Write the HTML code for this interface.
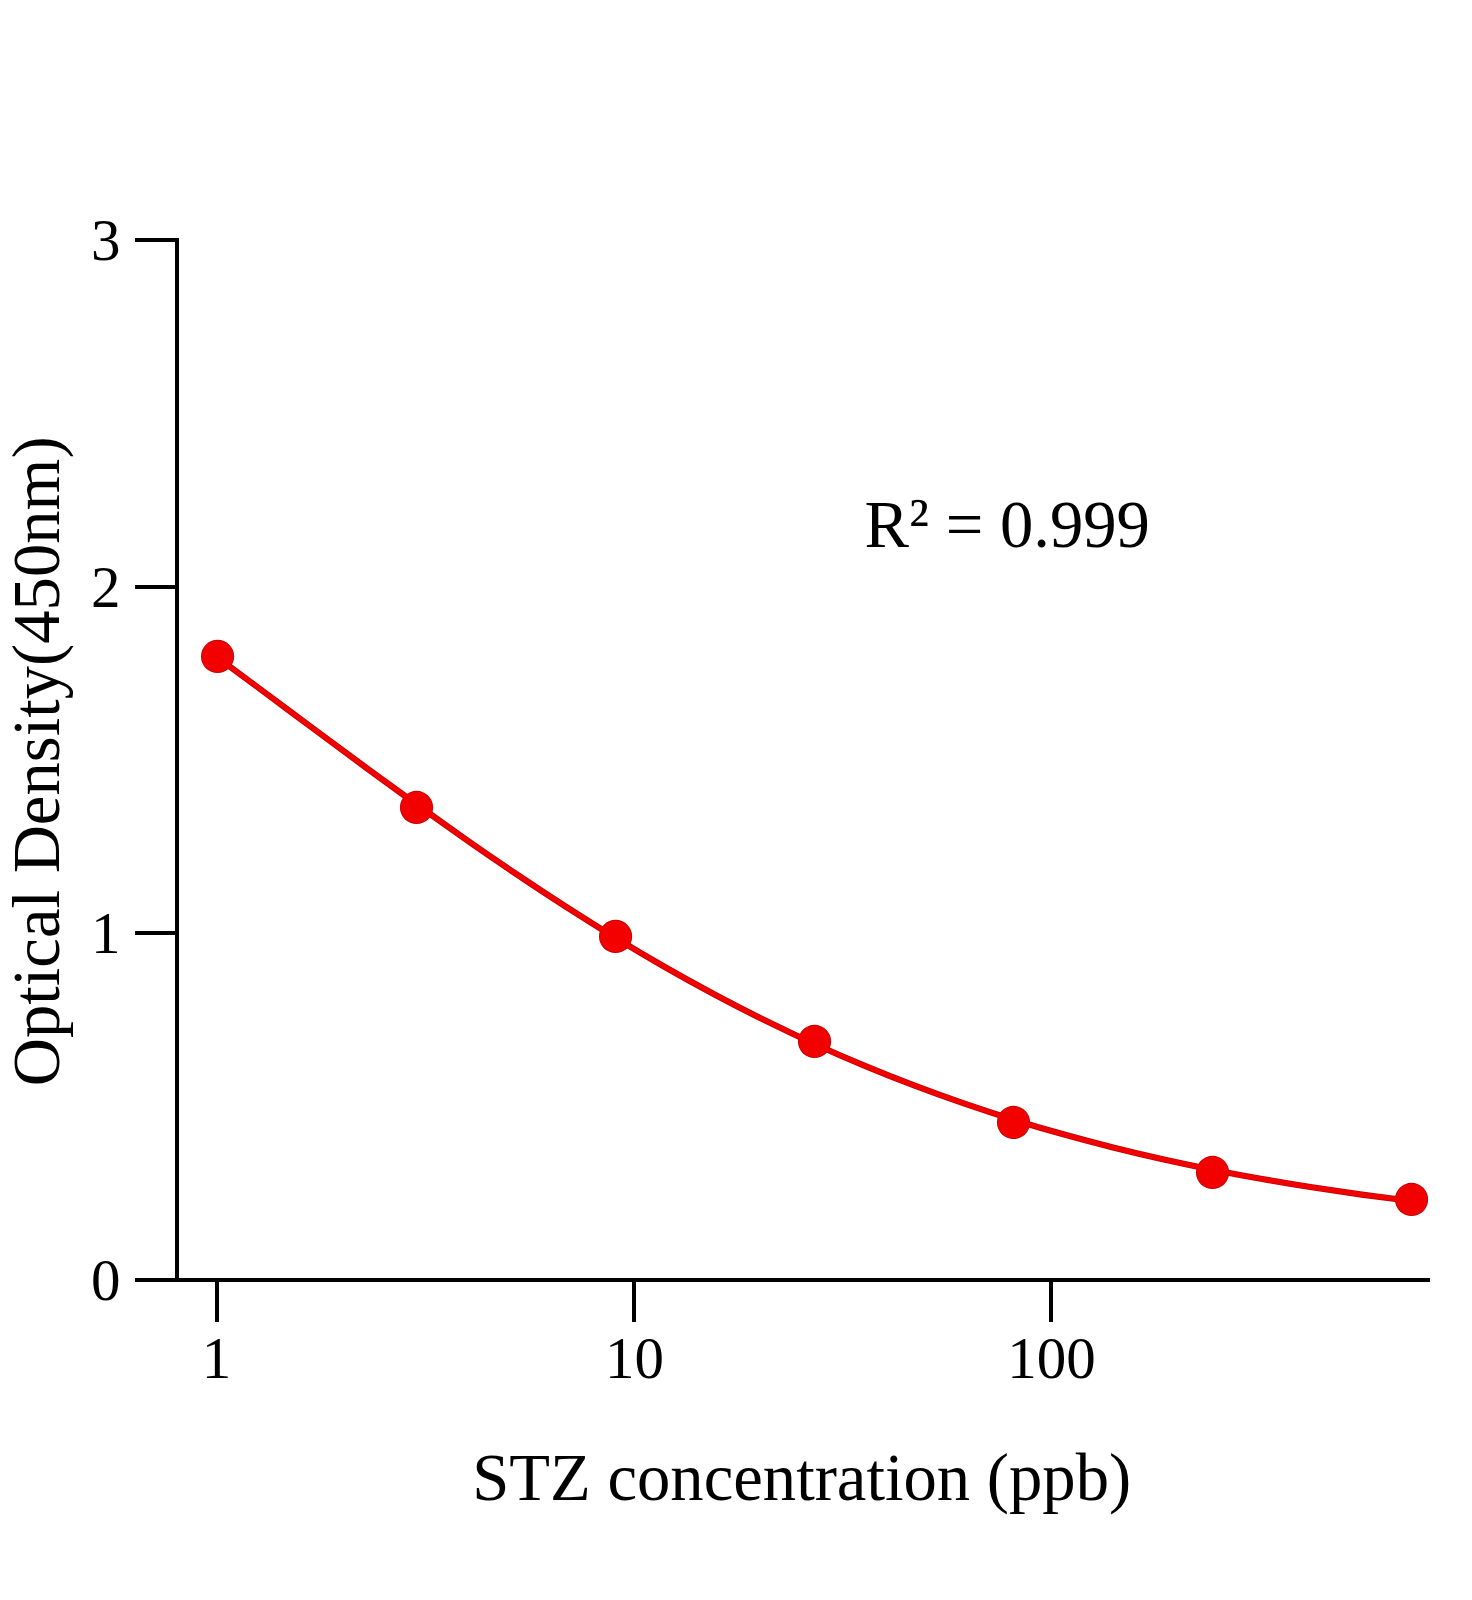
<!DOCTYPE html>
<html lang="en">
<head>
<meta charset="utf-8">
<title>STZ standard curve</title>
<style>
html,body{margin:0;padding:0;background:#fff;}
body{width:1472px;height:1600px;overflow:hidden;}
svg{display:block;}
text{font-family:"Liberation Serif","Times New Roman",serif;fill:#000;}
.tick text{font-size:59px;}
.lab{font-size:66.67px;}
</style>
</head>
<body>
<svg width="1472" height="1600" viewBox="0 0 1472 1600">
<rect x="0" y="0" width="1472" height="1600" fill="#ffffff"/>
<g fill="#000" shape-rendering="crispEdges">
<rect x="175" y="238" width="4" height="1044"/>
<rect x="135" y="1278" width="1295" height="4"/>
<rect x="135" y="1278.00" width="42" height="4"/>
<rect x="135" y="931.33" width="42" height="4"/>
<rect x="135" y="584.67" width="42" height="4"/>
<rect x="135" y="238.00" width="42" height="4"/>
<rect x="215" y="1280" width="4" height="42"/>
<rect x="632" y="1280" width="4" height="42"/>
<rect x="1049" y="1280" width="4" height="42"/>
</g>
<g class="tick">
<text x="120.5" y="1300.0" text-anchor="end">0</text>
<text x="120.5" y="953.3" text-anchor="end">1</text>
<text x="120.5" y="606.7" text-anchor="end">2</text>
<text x="120.5" y="260.0" text-anchor="end">3</text>
<text x="216.5" y="1377.8" text-anchor="middle">1</text>
<text x="634.5" y="1377.8" text-anchor="middle">10</text>
<text x="1051.5" y="1377.8" text-anchor="middle">100</text>
</g>
<text class="lab" x="801.7" y="1500" text-anchor="middle">STZ concentration (ppb)</text>
<text class="lab" transform="translate(58.8,761.3) rotate(-90)" text-anchor="middle">Optical Density(450nm)</text>
<text class="lab" x="864.6" y="546.5">R<tspan dy="-4">²</tspan><tspan dy="4"> = 0.999</tspan></text>
<g fill="#bd0505">
<path d="M217.55,657.49 C234.13,669.73 250.72,682.04 267.30,694.37 C283.88,706.70 300.47,719.05 317.05,731.37 C333.63,743.69 350.21,755.97 366.80,768.16 C383.38,780.34 399.96,792.44 416.55,804.38 C433.13,816.33 449.71,828.13 466.30,839.73 C482.88,851.34 499.46,862.75 516.05,873.92 C532.63,885.09 549.21,896.03 565.79,906.69 C582.38,917.36 598.96,927.75 615.54,937.85 C632.13,947.95 648.71,957.75 665.29,967.24 C681.88,976.73 698.46,985.90 715.04,994.76 C731.62,1003.61 748.21,1012.13 764.79,1020.33 C781.37,1028.53 797.96,1036.41 814.54,1043.96 C831.12,1051.51 847.71,1058.73 864.29,1065.64 C880.87,1072.55 897.46,1079.15 914.04,1085.44 C930.62,1091.73 947.20,1097.72 963.79,1103.43 C980.37,1109.13 996.95,1114.55 1013.54,1119.69 C1030.12,1124.84 1046.70,1129.71 1063.29,1134.33 C1079.87,1138.96 1096.45,1143.33 1113.04,1147.47 C1129.62,1151.61 1146.20,1155.52 1162.78,1159.22 C1179.37,1162.92 1195.95,1166.40 1212.53,1169.69 C1229.12,1172.98 1245.70,1176.08 1262.28,1179.00 C1278.87,1181.92 1295.45,1184.67 1312.03,1187.26 C1328.61,1189.85 1345.20,1192.28 1361.78,1194.57 C1378.36,1196.86 1394.95,1199.00 1411.53,1201.02" fill="none" stroke="#bd0505" stroke-width="6.2" stroke-linecap="butt"/>
<circle cx="217.55" cy="656.40" r="16.6"/>
<circle cx="416.53" cy="807.47" r="16.6"/>
<circle cx="615.57" cy="936.45" r="16.6"/>
<circle cx="814.53" cy="1041.47" r="16.6"/>
<circle cx="1013.53" cy="1122.47" r="16.6"/>
<circle cx="1212.53" cy="1172.47" r="16.6"/>
<circle cx="1411.53" cy="1199.47" r="16.6"/>
</g>
<g fill="#f30000">
<path d="M217.55,657.49 C234.13,669.73 250.72,682.04 267.30,694.37 C283.88,706.70 300.47,719.05 317.05,731.37 C333.63,743.69 350.21,755.97 366.80,768.16 C383.38,780.34 399.96,792.44 416.55,804.38 C433.13,816.33 449.71,828.13 466.30,839.73 C482.88,851.34 499.46,862.75 516.05,873.92 C532.63,885.09 549.21,896.03 565.79,906.69 C582.38,917.36 598.96,927.75 615.54,937.85 C632.13,947.95 648.71,957.75 665.29,967.24 C681.88,976.73 698.46,985.90 715.04,994.76 C731.62,1003.61 748.21,1012.13 764.79,1020.33 C781.37,1028.53 797.96,1036.41 814.54,1043.96 C831.12,1051.51 847.71,1058.73 864.29,1065.64 C880.87,1072.55 897.46,1079.15 914.04,1085.44 C930.62,1091.73 947.20,1097.72 963.79,1103.43 C980.37,1109.13 996.95,1114.55 1013.54,1119.69 C1030.12,1124.84 1046.70,1129.71 1063.29,1134.33 C1079.87,1138.96 1096.45,1143.33 1113.04,1147.47 C1129.62,1151.61 1146.20,1155.52 1162.78,1159.22 C1179.37,1162.92 1195.95,1166.40 1212.53,1169.69 C1229.12,1172.98 1245.70,1176.08 1262.28,1179.00 C1278.87,1181.92 1295.45,1184.67 1312.03,1187.26 C1328.61,1189.85 1345.20,1192.28 1361.78,1194.57 C1378.36,1196.86 1394.95,1199.00 1411.53,1201.02" fill="none" stroke="#f30000" stroke-width="4.5" stroke-linecap="butt"/>
<circle cx="217.55" cy="656.40" r="15.750000000000002"/>
<circle cx="416.53" cy="807.47" r="15.750000000000002"/>
<circle cx="615.57" cy="936.45" r="15.750000000000002"/>
<circle cx="814.53" cy="1041.47" r="15.750000000000002"/>
<circle cx="1013.53" cy="1122.47" r="15.750000000000002"/>
<circle cx="1212.53" cy="1172.47" r="15.750000000000002"/>
<circle cx="1411.53" cy="1199.47" r="15.750000000000002"/>
</g>
</svg>
</body>
</html>
